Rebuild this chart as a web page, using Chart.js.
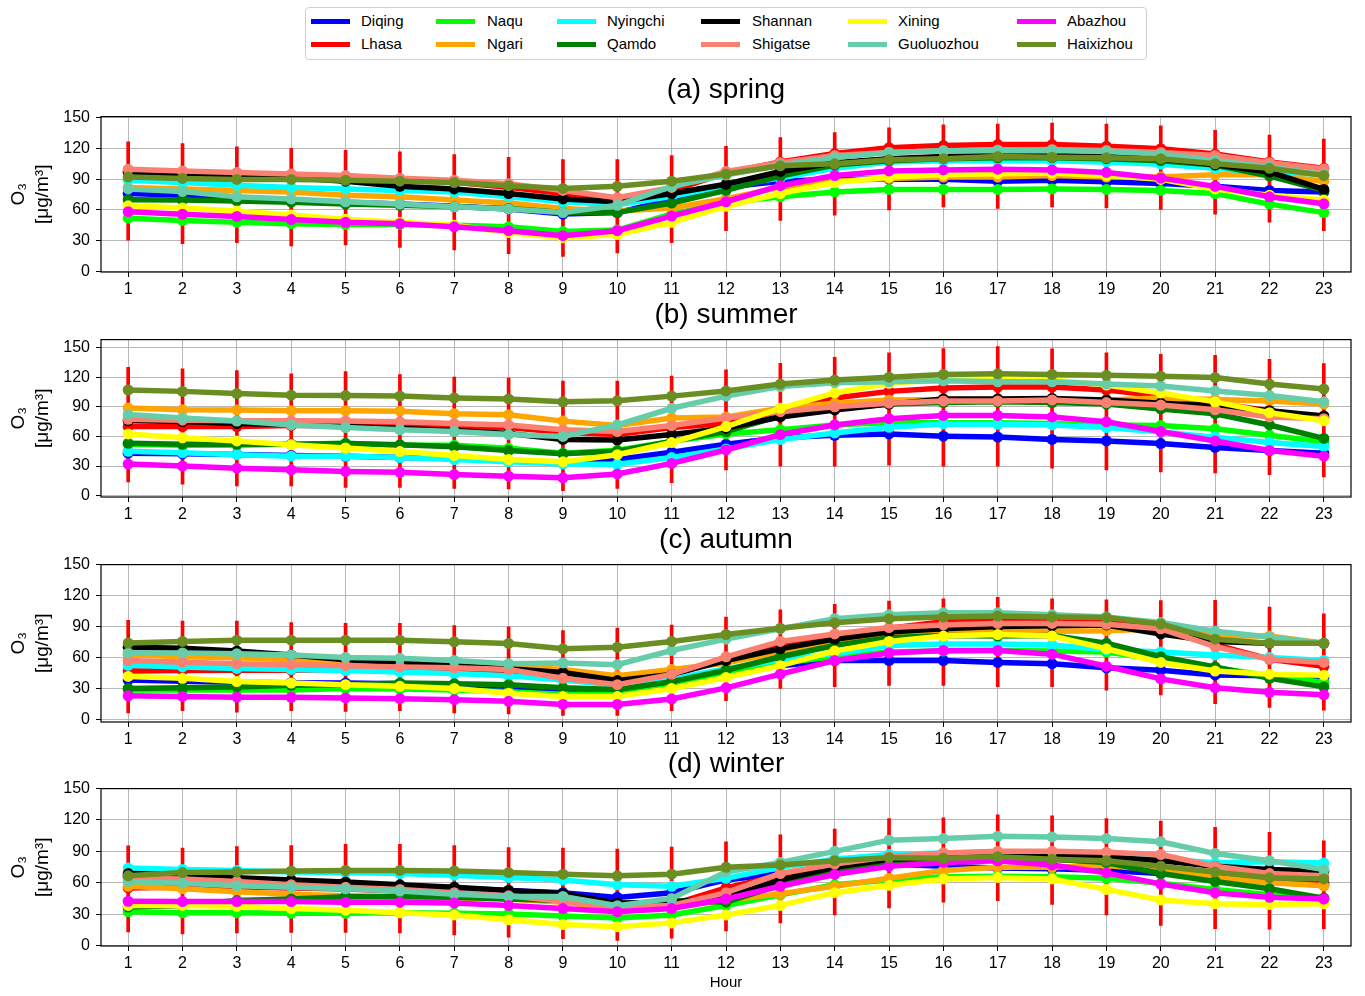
<!DOCTYPE html>
<html>
<head>
<meta charset="utf-8">
<script src="https://cdn.jsdelivr.net/npm/chart.js@4.4.1/dist/chart.umd.min.js"></script>
<style>
  body { margin: 0; background: #fff; font-family: "Liberation Sans", Arial, sans-serif; }
  #page { position: relative; width: 1365px; height: 996px; overflow: hidden; }
  canvas { position: absolute; left: 0; }
  .title { position: absolute; left: 101px; width: 1250px; text-align: center; font-size: 28px; line-height: 32px; color: #000; }
  #legend { position: absolute; left: 305px; top: 7px; width: 840px; height: 51px; border: 1px solid #d0d0d0; border-radius: 4px; background: #fff; }
  .item { position: absolute; font-size: 15px; line-height: 18px; color: #000; white-space: nowrap; }
  .swatch { position: absolute; width: 39px; height: 5px; }
  #xlabel { position: absolute; left: 101px; width: 1250px; top: 973px; text-align: center; font-size: 15px; }
</style>
</head>
<body>
<div id="page"></div>
<script>
// ---- data ----
const hours = [1, 2, 3, 4, 5, 6, 7, 8, 9, 10, 11, 12, 13, 14, 15, 16, 17, 18, 19, 20, 21, 22, 23];
const cities = ['Diqing', 'Lhasa', 'Naqu', 'Ngari', 'Nyingchi', 'Qamdo', 'Shannan', 'Shigatse', 'Xining', 'Guoluozhou', 'Abazhou', 'Haixizhou'];
const colors = ['#0000ff', '#ff0000', '#00ff00', '#ffa500', '#00ffff', '#008000', '#000000', '#fa8072', '#ffff00', '#66cdaa', '#ff00ff', '#6b8e23'];
const yTicks = [0, 30, 60, 90, 120, 150];
const titles = ['(a) spring', '(b) summer', '(c) autumn', '(d) winter'];

// one row per city, same order as cities
const spring = [
  [76, 74.4, 72, 69.7, 67.6, 65.7, 63.6, 61, 56, 57.4, 70, 82, 88, 90, 90, 90, 88, 89, 87.6, 85.8, 83, 79, 77.5],
  [97, 96, 94, 92, 91, 89, 87, 82, 76, 70, 79, 96, 106.8, 115, 120.7, 122.8, 123.7, 123.7, 122, 119.7, 114.5, 106.8, 100.6],
  [52, 49.7, 48, 46.6, 45.7, 46, 45, 43.5, 38.9, 40.4, 56, 66.7, 72.8, 77.5, 80, 80, 80, 80.5, 80, 79, 76, 65.7, 57.4],
  [82, 80.5, 79, 77.5, 74.4, 72.8, 69.7, 66.7, 61.4, 59, 62, 71, 82, 88, 90.7, 92, 92, 93.5, 92, 92, 94.4, 94.4, 88],
  [89, 86.7, 84, 82, 80.5, 79, 77.5, 72.8, 68, 65, 73, 83.6, 91, 100.6, 106.8, 108, 108, 108, 106.8, 104.6, 100.6, 96, 95.4],
  [70, 69.7, 68.8, 67.6, 65.7, 64.5, 63, 61.4, 57.4, 57.4, 66.7, 79, 93, 103.7, 108, 110, 110.8, 111, 110, 108, 103.7, 93, 79],
  [97, 95, 93.5, 91.5, 88, 83, 80.5, 76, 70.7, 68, 76, 85, 97.5, 106, 110, 112, 113, 113, 112, 110, 104, 97, 80],
  [99.7, 98, 96.6, 95, 93.5, 91, 89, 85.5, 79, 72, 82, 97.5, 106, 113, 116, 117.6, 118.5, 119, 118, 116, 113, 106, 100],
  [64, 62, 59, 55, 51, 48, 45, 38, 33, 36, 48, 63.6, 76, 86.7, 92, 94.4, 95.4, 96, 93.5, 89.8, 80.5, 74.4, 69.7],
  [80.5, 78, 72.8, 70.7, 68, 65.7, 63, 61, 57.4, 64.5, 83, 94, 103.7, 111, 116, 117.6, 117.6, 118, 117, 114.5, 108, 102, 94.4],
  [58.3, 55.9, 53.7, 50.6, 48, 46.6, 43.5, 39.8, 34.9, 39.8, 54, 68, 83.6, 93.5, 98, 99, 99.7, 99, 96.6, 91, 83, 72.8, 66],
  [92, 90.7, 89.8, 89.8, 88.9, 88, 86.7, 83.6, 81, 83, 88, 95, 103, 105, 109, 110, 112, 111.4, 110.8, 110, 105, 100.6, 93.5]
];
const springLo = [30.5, 27.2, 28, 25, 26, 23.5, 21, 17.3, 14.8, 18.2, 28, 39.8, 49.7, 55, 60, 63, 61.4, 63, 62, 60.5, 55.9, 48, 39.8];
const springHi = [126.5, 124.7, 121.6, 120, 118, 116.6, 113.9, 111.4, 109, 109, 113, 122, 130.5, 135.5, 140, 143, 143.8, 144.7, 143.8, 142, 137.6, 133, 129];

const summer = [
  [43, 42.4, 41.8, 40.8, 39.9, 38.6, 37.6, 36, 33.4, 36.6, 44, 52.2, 58.6, 61.2, 62.5, 60.3, 59.3, 57, 55.4, 52.8, 48.9, 45.7, 43],
  [70, 70, 70, 71, 71, 71, 70, 69, 64, 62, 69, 73, 86, 99, 105.6, 108.9, 110, 110, 107, 100.8, 93.6, 86, 79],
  [52, 51, 51, 52, 53, 51, 51, 48, 43, 46, 55, 62.5, 66.7, 71.6, 74.2, 73.9, 73.9, 73.2, 71.6, 71, 67.7, 61.2, 54.4],
  [88.8, 87, 86.8, 86, 86, 85.5, 83, 82, 75.5, 71, 78.7, 79.7, 88.5, 93.6, 96.9, 97.5, 97.5, 97.5, 96.9, 99, 97.5, 95.9, 92.7],
  [45, 43.4, 41.5, 40, 40, 38.6, 36.6, 34.3, 32, 31.8, 38.6, 47.3, 57, 63.5, 69.3, 72.6, 72.3, 71.6, 69, 64.5, 59.3, 53.8, 49.9],
  [53, 52, 52, 52, 52.8, 51.5, 49.6, 45.7, 42.4, 45, 55, 65, 80.7, 87.8, 92.7, 94.3, 95, 94.3, 92.7, 87.8, 83, 71.6, 58],
  [76, 75, 73, 72, 70, 68, 66, 63, 57, 56.4, 62, 68.4, 79.7, 86.8, 92.7, 98, 98, 98.5, 96.9, 93.6, 91, 86, 80.7],
  [77.4, 76.5, 75.8, 75.8, 75.5, 74.8, 73, 71.6, 66.7, 65, 71, 78.7, 85, 90, 93.6, 95.9, 95.9, 96.9, 94.3, 91.7, 87, 79.7, 78],
  [62.5, 58.6, 55.4, 51.5, 48.3, 44.7, 40.8, 36.6, 34.3, 41.5, 53.8, 70, 88.5, 104, 113.7, 117.6, 118.6, 117, 112, 104, 95, 84, 75.8],
  [82.3, 78.7, 75.5, 71.6, 69, 66.7, 65, 62, 60, 71.6, 88.5, 100.8, 110.5, 114.4, 115.3, 116.3, 115.3, 115.3, 113, 111, 106, 101.4, 95],
  [32, 30, 27.9, 26.2, 24.6, 23.7, 21.4, 19.8, 18.1, 22, 32.7, 46.3, 61.9, 71.6, 78, 81.3, 81.3, 79.7, 74.8, 65, 55.4, 45.7, 40],
  [107, 105.6, 103.4, 101.7, 101.4, 100.8, 99, 98, 95, 96, 100.8, 106, 113, 117, 120, 122.8, 123.4, 122.8, 121.8, 121, 119.6, 113, 108]
];
const summerLo = [14, 11.7, 10, 10, 8.4, 8.4, 7.5, 6.8, 5.2, 7.5, 13.3, 26.2, 30, 30, 31, 30, 30, 27.9, 26.2, 24, 23, 21.4, 19];
const summerHi = [130, 128.3, 126.7, 123.4, 125.7, 122.5, 120, 119, 116, 116, 121, 127.3, 134, 140, 144.5, 149, 151, 148.7, 144.5, 143, 142, 138, 133.8];

const autumn = [
  [38.6, 37.4, 36.5, 35.9, 35.6, 35, 33.4, 31.9, 28.8, 28, 36.5, 48, 52.4, 57.4, 57.4, 57.4, 55.5, 54.3, 50.3, 48, 43.5, 42.6, 41],
  [47.2, 47.8, 48, 48, 48.8, 48.8, 48, 47.2, 40, 35, 43, 60, 73.3, 81, 88.6, 94.8, 95.4, 95.4, 94.8, 88, 72.7, 58.6, 51.8],
  [28.8, 28.8, 28.8, 28.8, 30.4, 29.8, 28.8, 27.3, 24.8, 24.8, 31.9, 45, 55, 61, 65.6, 66.5, 67, 66.5, 65.6, 58, 50.3, 42.6, 36.5],
  [63, 61, 60, 58, 56.4, 55, 53.4, 51.8, 48.8, 42.6, 48.8, 55, 65.6, 74.8, 82.5, 86.2, 87, 85.6, 86.2, 88, 81, 81, 74],
  [52.8, 51.2, 49.7, 48.8, 47.8, 46.3, 44.8, 42.6, 38.6, 33.4, 39.6, 49.4, 58, 64, 71.8, 73.3, 73.3, 72.4, 67.8, 65.6, 62.6, 60.4, 57.4],
  [30.4, 31, 31.9, 33.4, 34, 35.6, 35, 34, 31, 29.4, 37, 48, 61, 71.8, 79.4, 81.6, 81, 81.6, 74, 61, 51.2, 40.2, 31.9],
  [70.2, 69.3, 66.5, 62.6, 58, 55.5, 52.4, 49.4, 45.7, 38, 44, 57.4, 68.7, 78, 85, 88, 90.2, 91, 91.7, 83, 75.8, 74, 74],
  [57.4, 55.8, 54.3, 53.4, 52.4, 51.2, 50.3, 48.8, 40.2, 34, 44, 61, 75.8, 83, 89.2, 91.7, 93.2, 93.2, 92.3, 88, 70.8, 58.6, 55.5],
  [42, 40.2, 37, 35.6, 34, 32.5, 30.4, 25.8, 22.7, 22.7, 30.4, 41, 52.4, 66.5, 75.8, 81, 82.5, 81, 68.7, 55.5, 47.2, 44.2, 43.2],
  [64.7, 64.7, 64, 62.6, 60.4, 59.5, 57.4, 54.3, 55, 53.4, 67, 78, 88, 97.8, 101.5, 103.4, 103.4, 101.5, 99.4, 94, 85.6, 80, 74],
  [23.3, 22.7, 22, 21.8, 21.2, 20.5, 19.6, 18, 15, 15, 20.2, 31, 44.2, 57.4, 64.7, 67, 67, 63.5, 51.8, 39.6, 31, 26.7, 24.2],
  [74.2, 75.8, 77, 77, 77, 77, 75.4, 73.9, 68.7, 70.2, 75.8, 82.5, 88.6, 93.8, 97.8, 99.4, 100.3, 99.4, 98.8, 92.6, 78, 74, 74]
];
const autumnLo = [6.7, 9, 7.4, 9, 8.3, 9, 6.7, 5.8, 4.3, 4.3, 9, 18.7, 30.4, 32, 33.4, 33.4, 32, 32, 28.8, 24.2, 15.6, 12, 9.5];
const autumnHi = [96.3, 95.4, 95.4, 94, 93.2, 93.2, 91, 90, 86.2, 88.6, 91.7, 99.4, 106.4, 111.6, 114.7, 117, 118.4, 117, 116, 115.3, 115.6, 109, 102.4];

const winter = [
  [66, 65, 63, 61, 59, 57, 55, 52.6, 50.5, 46, 50.5, 62.7, 68.8, 73.3, 77.9, 75.8, 74, 73.3, 71.8, 68.8, 65.7, 62.7, 59.6],
  [55, 56, 56, 55, 54, 52, 50, 47, 43, 38, 39, 55, 67.2, 75.8, 82.5, 83, 84, 82.5, 80, 74.8, 68.8, 61.2, 57.5],
  [32.3, 31.3, 31.3, 30.7, 30.7, 31.3, 30.7, 30.1, 28.3, 26.2, 29.2, 38.3, 48.4, 58, 62.7, 65.7, 66.3, 65.7, 64.2, 59.6, 53.6, 48.4, 44.4],
  [56.6, 54.2, 51.4, 49, 47.5, 46.6, 45.3, 44.4, 41.4, 35.3, 36.8, 42.9, 49.6, 56.6, 64.2, 71.8, 74.8, 74.8, 76.4, 72, 65, 60, 57],
  [74, 72.7, 71.8, 70.3, 69.7, 68.8, 67.2, 65.1, 62.7, 58, 56.6, 64.2, 74.8, 82.5, 87, 88.5, 89.2, 88, 87, 82.5, 79, 80, 78.8],
  [36.8, 38.3, 42.9, 44.4, 46.6, 46.9, 46, 44.4, 42.9, 38.3, 42.9, 41.4, 58, 72.7, 81, 82.5, 83, 82.5, 79.4, 68.8, 61.2, 54.2, 45.3],
  [68.8, 67.9, 64.8, 62.7, 60.6, 58, 55.7, 52.6, 49.6, 40.5, 41.4, 46, 62.7, 74.8, 82.5, 84, 85.5, 85.5, 84.9, 81, 75.8, 72.7, 70.9],
  [64.2, 63.6, 61.2, 58, 55.7, 53.6, 50.5, 47.5, 42.3, 36.8, 38.3, 50.5, 68.8, 77.9, 84.9, 88.5, 90, 90, 89.2, 87, 75.8, 68.8, 66.6],
  [38.3, 38.3, 37.4, 35.3, 33.8, 31.3, 29.2, 24.6, 20, 18, 21.6, 29.2, 38.3, 50.5, 57.5, 63.6, 65.1, 63.6, 53.6, 43.5, 39.9, 39.3, 39.9],
  [61.2, 59.6, 57.2, 55.7, 54.2, 52, 49, 46.9, 46.9, 38, 45, 70.3, 79.4, 90, 100.7, 102.2, 104.4, 103.8, 102.2, 99.2, 88, 81, 72.7],
  [42.3, 42, 42, 42, 41.4, 41.4, 40.5, 38.3, 35.3, 32.3, 35.3, 44.4, 56.6, 67.9, 75.8, 79.4, 81, 77, 69.4, 58.7, 50.5, 46, 44.4],
  [66.6, 69.7, 70.3, 71.2, 71.8, 71.8, 71.2, 69.7, 68.2, 66.6, 68.2, 74.8, 77, 81, 84, 83.4, 84.9, 82.5, 81, 75.8, 70.3, 64.8, 63.6]
];
const winterLo = [13, 11, 11.9, 12.5, 12.5, 11.9, 10, 7.9, 6.4, 4.9, 7, 14, 21.6, 29.2, 35.9, 41.4, 42.9, 39.3, 29.2, 19.2, 16, 15.5, 16];
const winterHi = [95.2, 93.1, 94.6, 95.5, 96.8, 96.8, 95.5, 93.7, 93.1, 92.2, 94, 99.2, 105.9, 111.4, 121.4, 122, 125, 124, 121.4, 119, 112.9, 108.3, 100];

// ---- layout ----
const FONT = '"Liberation Sans", Arial, sans-serif';
const page = document.getElementById('page');

const panels = [
  { values: spring, lo: springLo, hi: springHi, top: 109, bottom: 272, ymin: -0.5, ymax: 151, titleY: 73 },
  { values: summer, lo: summerLo, hi: summerHi, top: 332, bottom: 497, ymin: -1.3, ymax: 158, titleY: 298 },
  { values: autumn, lo: autumnLo, hi: autumnHi, top: 557, bottom: 722, ymin: -2, ymax: 150, titleY: 523 },
  { values: winter, lo: winterLo, hi: winterHi, top: 781, bottom: 946, ymin: -0.5, ymax: 150, titleY: 747 }
];

const framePlugin = {
  id: 'frame',
  afterDraw(chart) {
    const { ctx, chartArea: a } = chart;
    ctx.save();
    ctx.strokeStyle = '#000';
    ctx.lineWidth = 1.2;
    ctx.strokeRect(a.left, a.top, a.right - a.left, a.bottom - a.top);
    ctx.restore();
  }
};

const gridOpts = {
  color: '#b0b0b0',
  lineWidth: 0.9,
  borderDash: [4, 2],
  tickColor: '#000',
  tickLength: 5,
  tickWidth: 1,
  tickBorderDash: []
};

panels.forEach((p, k) => {
  const padTop = 8, xH = 32;
  const canvas = document.createElement('canvas');
  canvas.width = 1365;
  canvas.height = (p.bottom - p.top) + padTop + xH;
  canvas.style.top = (p.top - padTop) + 'px';
  page.appendChild(canvas);

  const t = document.createElement('div');
  t.className = 'title';
  t.style.top = p.titleY + 'px';
  t.textContent = titles[k];
  page.appendChild(t);

  const datasets = cities.map((name, i) => ({
    type: 'line',
    label: name,
    data: p.values[i],
    borderColor: colors[i],
    backgroundColor: colors[i],
    borderWidth: 5.5,
    pointRadius: 5.5,
    pointBorderWidth: 0,
    pointBackgroundColor: colors[i],
    tension: 0,
    order: 20 - i
  }));
  datasets.push({
    type: 'bar',
    label: 'range',
    data: p.lo.map((l, i) => [l, p.hi[i]]),
    backgroundColor: '#ff0000',
    barThickness: 3,
    order: 100
  });

  new Chart(canvas, {
    type: 'line',
    data: { labels: hours, datasets },
    options: {
      responsive: false,
      animation: false,
      layout: { padding: { top: padTop, right: 14, left: 0, bottom: 0 } },
      plugins: { legend: { display: false }, tooltip: { enabled: false } },
      scales: {
        x: {
          type: 'category',
          offset: true,
          grid: Object.assign({ offset: false }, gridOpts),
          border: { display: false },
          ticks: { color: '#000', font: { size: 16, family: FONT }, padding: 3, maxRotation: 0, autoSkip: false },
          afterFit: s => { s.height = xH; }
        },
        y: {
          min: p.ymin,
          max: p.ymax,
          afterBuildTicks: s => { s.ticks = yTicks.map(v => ({ value: v })); },
          afterFit: s => { s.width = 101; },
          grid: gridOpts,
          border: { display: false },
          ticks: { color: '#000', font: { size: 16, family: FONT }, padding: 6 },
          title: {
            display: true,
            text: ['O\u2083', '[\u03bcg/m\u00b3]'],
            color: '#000',
            font: { size: 19, family: FONT, lineHeight: 1.25 },
            padding: { top: 7, bottom: 0 }
          }
        }
      }
    },
    plugins: [framePlugin]
  });
});

// ---- legend (column-major, 6 columns x 2 rows) ----
const legend = document.createElement('div');
legend.id = 'legend';
page.appendChild(legend);
const colSwatchX = [5, 130, 251, 395, 542, 711];
const colTextX = [55, 181, 301, 446, 592, 761];
cities.forEach((name, i) => {
  const col = Math.floor(i / 2), row = i % 2;
  const cy = row === 0 ? 13 : 36;
  const sw = document.createElement('div');
  sw.className = 'swatch';
  sw.style.left = colSwatchX[col] + 'px';
  sw.style.top = (cy - 2.5) + 'px';
  sw.style.background = colors[i];
  legend.appendChild(sw);
  const tx = document.createElement('div');
  tx.className = 'item';
  tx.style.left = colTextX[col] + 'px';
  tx.style.top = (cy - 9) + 'px';
  tx.textContent = name;
  legend.appendChild(tx);
});

const xl = document.createElement('div');
xl.id = 'xlabel';
xl.textContent = 'Hour';
page.appendChild(xl);
</script>
</body>
</html>
